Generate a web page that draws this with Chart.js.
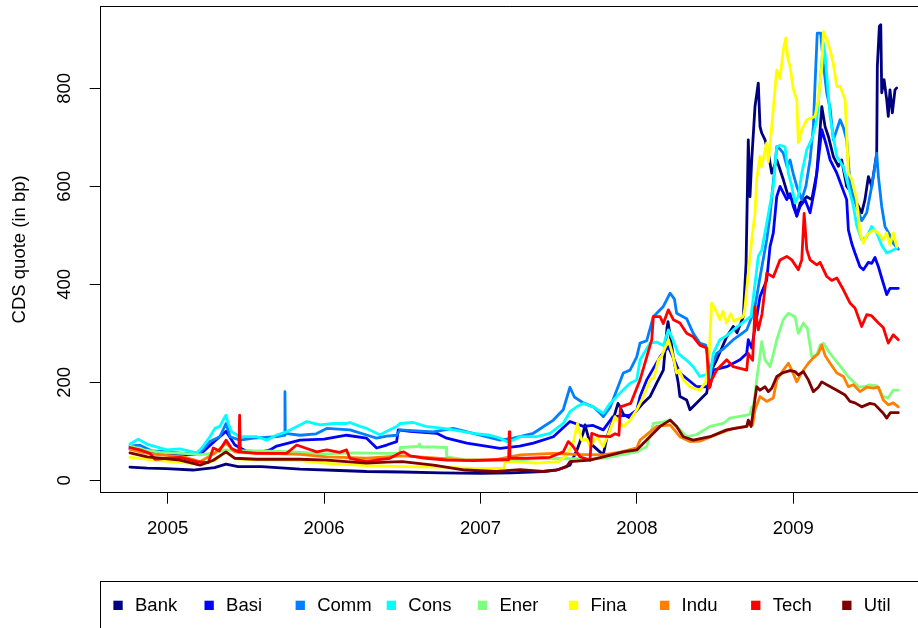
<!DOCTYPE html>
<html>
<head>
<meta charset="utf-8">
<title>CDS quotes by sector</title>
<script src="https://cdn.jsdelivr.net/npm/chart.js@4.4.1/dist/chart.umd.min.js"></script>
<style>
  html, body { margin: 0; padding: 0; background: #ffffff; }
  #wrap { width: 918px; height: 628px; }
</style>
</head>
<body>
<div id="wrap"><canvas id="cds" width="918" height="628"></canvas></div>
<script>
// Sector CDS index quotes (basis points), time in decimal years.
const sectors = ['Bank', 'Basi', 'Comm', 'Cons', 'Ener', 'Fina', 'Indu', 'Tech', 'Util'];
const sectorColors = ['#00007F', '#0000FF', '#007FFF', '#00FFFF', '#7FFF7F', '#FFFF00', '#FF7F00', '#FF0000', '#7F0000'];
const yearTicks = [2005, 2006, 2007, 2008, 2009];
const quoteTicks = [0, 200, 400, 600, 800];

const bankQuotes = [[2004.759,27],[2004.87,25],[2004.99,24],[2005.162,21],[2005.30,26],[2005.373,33],[2005.45,28],[2005.60,28],[2005.846,23],[2006.10,20],[2006.272,18],[2006.50,17],[2006.75,15],[2007.00,14],[2007.20,15],[2007.40,18],[2007.50,22],[2007.572,31],[2007.617,62],[2007.657,97],[2007.668,113],[2007.700,76],[2007.785,52],[2007.809,89],[2007.847,123],[2007.879,157],[2007.892,150],[2007.913,135],[2007.956,127],[2008.041,158],[2008.084,171],[2008.127,199],[2008.169,225],[2008.193,313],[2008.199,324],[2008.233,252],[2008.264,199],[2008.275,171],[2008.318,164],[2008.339,144],[2008.382,158],[2008.446,178],[2008.467,219],[2008.510,246],[2008.574,293],[2008.616,314],[2008.640,301],[2008.680,334],[2008.698,444],[2008.712,695],[2008.723,579],[2008.734,654],[2008.755,763],[2008.776,811],[2008.787,722],[2008.798,709],[2008.819,695],[2008.840,668],[2008.862,627],[2008.894,654],[2008.936,614],[2008.968,579],[2009.000,573],[2009.022,539],[2009.043,566],[2009.086,579],[2009.118,573],[2009.150,627],[2009.182,763],[2009.203,722],[2009.224,702],[2009.256,661],[2009.288,641],[2009.309,654],[2009.341,600],[2009.373,587],[2009.416,559],[2009.437,546],[2009.458,573],[2009.480,620],[2009.501,600],[2009.533,668],[2009.537,845],[2009.550,927],[2009.559,930],[2009.565,791],[2009.580,818],[2009.597,777],[2009.607,743],[2009.618,797],[2009.633,750],[2009.650,797],[2009.661,801]];

const basiQuotes = [[2004.759,64],[2004.85,60],[2004.95,55],[2005.10,52],[2005.207,53],[2005.30,80],[2005.373,100],[2005.43,72],[2005.50,60],[2005.60,58],[2005.654,62],[2005.697,70],[2005.846,82],[2006.00,84],[2006.144,92],[2006.272,86],[2006.336,66],[2006.40,72],[2006.464,79],[2006.474,103],[2006.55,100],[2006.720,96],[2006.784,86],[2006.912,76],[2007.125,65],[2007.25,70],[2007.338,76],[2007.466,89],[2007.572,120],[2007.657,110],[2007.72,112],[2007.785,103],[2007.847,130],[2007.956,133],[2008.00,144],[2008.020,171],[2008.063,205],[2008.148,252],[2008.201,273],[2008.275,219],[2008.382,191],[2008.467,191],[2008.488,225],[2008.574,232],[2008.659,246],[2008.702,259],[2008.712,287],[2008.734,270],[2008.787,375],[2008.830,409],[2008.851,477],[2008.872,505],[2008.894,579],[2008.915,600],[2008.958,573],[2008.979,585],[2009.000,559],[2009.022,540],[2009.043,559],[2009.075,573],[2009.107,546],[2009.139,600],[2009.160,654],[2009.182,716],[2009.214,681],[2009.235,654],[2009.278,627],[2009.341,573],[2009.352,511],[2009.373,484],[2009.394,464],[2009.426,436],[2009.448,430],[2009.480,445],[2009.501,443],[2009.522,455],[2009.544,436],[2009.565,413],[2009.597,379],[2009.618,392],[2009.639,392],[2009.671,392]];

const commQuotes = [[2004.759,70],[2004.82,72],[2004.90,60],[2005.00,58],[2005.10,55],[2005.207,56],[2005.270,79],[2005.334,89],[2005.373,116],[2005.40,89],[2005.462,82],[2005.55,86],[2005.70,89],[2005.748,92],[2005.750,181],[2005.752,96],[2005.846,92],[2005.95,95],[2006.017,106],[2006.165,103],[2006.272,92.5],[2006.336,86],[2006.40,90],[2006.464,92],[2006.485,103],[2006.698,99],[2006.826,106],[2006.954,96],[2007.125,82],[2007.210,86],[2007.338,96],[2007.466,123],[2007.529,144],[2007.572,190],[2007.600,170],[2007.657,158],[2007.721,150],[2007.765,137],[2007.785,130],[2007.830,150],[2007.913,219],[2007.956,225],[2007.999,252],[2008.020,280],[2008.063,285],[2008.105,334],[2008.169,355],[2008.212,382],[2008.240,370],[2008.254,341],[2008.318,330],[2008.360,300],[2008.402,280],[2008.440,276],[2008.467,225],[2008.510,259],[2008.552,268],[2008.616,287],[2008.659,297],[2008.702,307],[2008.730,330],[2008.755,355],[2008.790,420],[2008.830,491],[2008.851,540],[2008.894,681],[2008.915,676],[2008.936,668],[2008.960,640],[2008.979,654],[2009.000,625],[2009.022,600],[2009.054,573],[2009.080,600],[2009.107,654],[2009.128,722],[2009.139,811],[2009.153,913],[2009.175,913],[2009.192,850],[2009.214,790],[2009.235,760],[2009.256,695],[2009.299,736],[2009.320,720],[2009.341,695],[2009.362,607],[2009.384,580],[2009.405,559],[2009.437,530],[2009.469,546],[2009.501,600],[2009.522,641],[2009.533,668],[2009.544,620],[2009.565,559],[2009.586,518],[2009.618,500],[2009.639,484],[2009.671,472]];

const consQuotes = [[2004.759,74],[2004.812,84],[2004.866,74],[2004.994,62],[2005.079,64],[2005.185,56],[2005.207,62],[2005.226,69],[2005.270,89],[2005.302,106],[2005.334,110],[2005.355,123],[2005.373,133],[2005.387,116],[2005.409,99],[2005.462,89],[2005.569,89],[2005.633,82],[2005.697,92.5],[2005.760,99],[2005.846,113],[2005.889,120],[2005.974,113],[2006.059,116],[2006.144,116],[2006.165,118],[2006.230,110],[2006.272,106],[2006.336,96],[2006.358,93],[2006.421,103],[2006.464,110],[2006.485,116],[2006.570,118],[2006.650,110],[2006.762,106],[2006.826,103],[2006.954,96],[2007.061,92],[2007.125,86],[2007.167,79],[2007.210,82],[2007.253,89],[2007.359,89],[2007.444,96],[2007.529,116],[2007.572,140],[2007.615,150],[2007.657,157],[2007.721,150],[2007.785,137],[2007.828,157],[2007.892,178],[2007.956,198],[2007.999,205],[2008.020,246],[2008.084,280],[2008.127,282],[2008.169,275],[2008.201,307],[2008.233,285],[2008.264,259],[2008.318,245],[2008.360,232],[2008.402,212],[2008.446,216],[2008.467,210],[2008.488,259],[2008.531,287],[2008.574,295],[2008.616,307],[2008.659,318],[2008.702,328],[2008.730,335],[2008.776,457],[2008.798,470],[2008.830,525],[2008.872,600],[2008.894,681],[2008.915,684],[2008.947,681],[2008.968,627],[2008.990,600],[2009.011,566],[2009.032,580],[2009.054,627],[2009.086,675],[2009.118,696],[2009.150,736],[2009.171,811],[2009.192,893],[2009.203,870],[2009.235,743],[2009.256,700],[2009.278,661],[2009.320,640],[2009.352,600],[2009.384,559],[2009.405,520],[2009.437,491],[2009.469,497],[2009.501,518],[2009.533,505],[2009.565,480],[2009.597,464],[2009.639,470],[2009.661,474]];

const enerQuotes = [[2004.759,70],[2004.85,62],[2004.95,57],[2005.10,55],[2005.207,52],[2005.30,56],[2005.373,62],[2005.45,60],[2005.60,60],[2005.80,58],[2006.00,54],[2006.20,56],[2006.40,55],[2006.484,55],[2006.486,67],[2006.60,69],[2006.610,74],[2006.615,68],[2006.70,68],[2006.78,67],[2006.784,48],[2006.90,42],[2007.10,40],[2007.25,42],[2007.40,45],[2007.60,44],[2007.785,45],[2007.90,52],[2007.999,58],[2008.063,69],[2008.105,116],[2008.150,118],[2008.212,123],[2008.275,103],[2008.318,89],[2008.380,93],[2008.467,110],[2008.552,116],[2008.595,127],[2008.702,133],[2008.723,135],[2008.734,150],[2008.740,138],[2008.766,205],[2008.798,283],[2008.819,246],[2008.851,232],[2008.870,255],[2008.894,287],[2008.936,328],[2008.968,341],[2009.011,334],[2009.032,300],[2009.064,321],[2009.090,310],[2009.118,252],[2009.150,256],[2009.171,276],[2009.192,280],[2009.235,259],[2009.270,245],[2009.320,225],[2009.350,212],[2009.394,198],[2009.420,190],[2009.460,192],[2009.490,195],[2009.533,193],[2009.575,171],[2009.605,168],[2009.639,184],[2009.671,184]];

const finaQuotes = [[2004.759,47],[2004.85,44],[2004.95,40],[2005.10,36],[2005.207,33],[2005.30,40],[2005.373,58],[2005.43,44],[2005.55,42],[2005.70,41],[2005.846,40],[2006.00,35],[2006.272,30],[2006.50,28],[2006.75,27],[2007.00,24],[2007.150,25],[2007.157,38],[2007.30,36],[2007.359,35],[2007.500,38],[2007.551,52],[2007.593,76],[2007.615,110],[2007.620,116],[2007.647,82],[2007.680,84],[2007.700,69],[2007.743,89],[2007.785,69],[2007.828,103],[2007.860,130],[2007.880,122],[2007.913,110],[2007.950,120],[2007.999,144],[2008.041,171],[2008.084,205],[2008.110,210],[2008.137,246],[2008.160,255],[2008.201,287],[2008.230,255],[2008.254,219],[2008.270,225],[2008.296,205],[2008.339,191],[2008.402,184],[2008.440,200],[2008.462,259],[2008.478,362],[2008.500,350],[2008.531,328],[2008.550,345],[2008.574,321],[2008.600,340],[2008.620,325],[2008.680,334],[2008.690,350],[2008.712,423],[2008.734,491],[2008.755,546],[2008.766,614],[2008.787,661],[2008.797,640],[2008.830,689],[2008.840,650],[2008.862,722],[2008.894,838],[2008.915,820],[2008.936,879],[2008.952,903],[2008.965,860],[2008.979,845],[2009.000,798],[2009.022,777],[2009.032,689],[2009.040,695],[2009.054,716],[2009.086,736],[2009.118,740],[2009.139,743],[2009.160,777],[2009.182,845],[2009.192,916],[2009.214,900],[2009.235,879],[2009.256,850],[2009.278,804],[2009.300,804],[2009.331,777],[2009.352,627],[2009.373,615],[2009.405,573],[2009.426,505],[2009.448,484],[2009.469,500],[2009.512,511],[2009.544,505],[2009.575,491],[2009.597,505],[2009.618,480],[2009.639,505],[2009.661,477]];

const induQuotes = [[2004.759,63],[2004.85,56],[2004.95,52],[2005.10,48],[2005.207,38],[2005.30,55],[2005.373,76],[2005.43,58],[2005.50,56],[2005.654,55],[2005.846,53],[2006.017,48],[2006.272,45],[2006.50,50],[2006.70,46],[2006.90,41],[2007.10,42],[2007.253,52],[2007.466,55],[2007.60,53],[2007.785,52],[2007.90,58],[2007.999,66],[2008.020,82],[2008.127,110],[2008.212,113],[2008.275,89],[2008.339,79],[2008.402,80],[2008.531,96],[2008.616,106],[2008.702,110],[2008.723,116],[2008.740,113],[2008.755,144],[2008.787,171],[2008.830,161],[2008.872,168],[2008.894,205],[2008.936,225],[2008.968,239],[2008.990,225],[2009.022,201],[2009.054,220],[2009.096,239],[2009.128,250],[2009.160,259],[2009.182,276],[2009.203,255],[2009.235,239],[2009.278,219],[2009.320,212],[2009.352,191],[2009.384,195],[2009.426,181],[2009.469,190],[2009.512,188],[2009.544,190],[2009.575,164],[2009.607,154],[2009.639,158],[2009.671,150]];

const techQuotes = [[2004.759,67],[2004.823,62],[2004.887,55],[2004.919,43],[2005.079,47],[2005.185,38],[2005.260,36],[2005.292,66],[2005.330,60],[2005.373,82],[2005.409,65],[2005.455,58],[2005.460,133],[2005.465,58],[2005.569,55],[2005.760,55],[2005.825,72],[2005.889,65],[2005.953,58],[2006.017,62],[2006.100,57],[2006.144,62],[2006.165,45],[2006.272,38],[2006.350,42],[2006.421,45],[2006.485,56],[2006.510,58],[2006.550,50],[2006.650,45],[2006.784,41],[2006.954,40],[2007.100,42],[2007.180,42],[2007.184,99],[2007.188,45],[2007.300,45],[2007.444,47],[2007.529,58],[2007.561,79],[2007.590,70],[2007.636,48],[2007.700,41],[2007.711,96],[2007.760,90],[2007.828,89],[2007.860,95],[2007.885,92],[2007.895,150],[2007.960,157],[2008.020,205],[2008.063,252],[2008.095,287],[2008.105,334],[2008.148,334],[2008.169,320],[2008.201,348],[2008.233,328],[2008.275,321],[2008.318,300],[2008.360,293],[2008.402,276],[2008.446,270],[2008.462,188],[2008.478,205],[2008.510,225],[2008.574,246],[2008.616,232],[2008.702,225],[2008.712,259],[2008.740,245],[2008.755,355],[2008.776,307],[2008.800,340],[2008.830,423],[2008.872,415],[2008.915,450],[2008.958,457],[2008.990,450],[2009.032,430],[2009.054,450],[2009.069,545],[2009.086,471],[2009.107,450],[2009.150,440],[2009.171,445],[2009.214,416],[2009.245,408],[2009.278,413],[2009.320,389],[2009.362,362],[2009.394,352],[2009.437,314],[2009.469,338],[2009.500,336],[2009.544,321],[2009.575,312],[2009.607,280],[2009.639,297],[2009.671,287]];

const utilQuotes = [[2004.759,56],[2004.87,48],[2005.079,41],[2005.207,31],[2005.292,41],[2005.373,58],[2005.43,45],[2005.569,43],[2005.846,43],[2006.017,41],[2006.272,35],[2006.40,37],[2006.50,38],[2006.70,31],[2006.90,21],[2007.10,18],[2007.253,22],[2007.40,18],[2007.487,21],[2007.551,28],[2007.572,38],[2007.700,41],[2007.785,48],[2007.913,58],[2007.999,62],[2008.105,96],[2008.148,110],[2008.212,123],[2008.254,110],[2008.296,89],[2008.360,82],[2008.467,89],[2008.574,103],[2008.702,110],[2008.712,123],[2008.730,110],[2008.766,191],[2008.787,184],[2008.819,191],[2008.840,181],[2008.862,188],[2008.894,212],[2008.936,220],[2008.979,224],[2009.011,222],[2009.032,215],[2009.064,222],[2009.096,205],[2009.128,181],[2009.160,190],[2009.182,201],[2009.214,195],[2009.278,184],[2009.331,174],[2009.362,161],[2009.394,158],[2009.437,150],[2009.490,157],[2009.520,155],[2009.575,137],[2009.597,127],[2009.620,138],[2009.671,138]];

const sectorQuotes = [bankQuotes, basiQuotes, commQuotes, consQuotes, enerQuotes, finaQuotes, induQuotes, techQuotes, utilQuotes];

const FONT = '"Liberation Sans", Arial, Helvetica, sans-serif';
Chart.defaults.font.family = FONT;
Chart.defaults.font.size = 18;
Chart.defaults.color = '#000000';

// Plot box top edge and the horizontal sector key below the axis.
const frameAndKey = {
  id: 'frameAndKey',
  afterDraw(chart) {
    const ctx = chart.ctx;
    const area = chart.chartArea;
    ctx.save();
    ctx.strokeStyle = '#000000';
    ctx.lineWidth = 1;
    const yTop = Math.round(area.top) + 0.5;
    ctx.beginPath();
    ctx.moveTo(area.left, yTop);
    ctx.lineTo(area.right + 2, yTop);
    ctx.stroke();

    ctx.strokeRect(100.5, 581.5, 840, 80);
    ctx.font = '18.5px ' + FONT;
    ctx.textAlign = 'left';
    ctx.textBaseline = 'middle';
    chart.data.datasets.forEach((ds, i) => {
      const cx = 118 + i * 91.1;
      ctx.fillStyle = ds.borderColor;
      ctx.fillRect(cx - 4.6, 600.7, 9.3, 9.3);
      ctx.fillStyle = '#000000';
      ctx.fillText(ds.label, cx + 17, 605.8);
    });
    ctx.restore();
  }
};

const axisGrid = { display: true, drawOnChartArea: false, drawTicks: true, tickLength: 11, color: '#000000', tickColor: '#000000', tickWidth: 1 };
const axisBorder = { display: true, color: '#000000', width: 1 };

new Chart(document.getElementById('cds'), {
  type: 'line',
  data: {
    datasets: sectors.map((name, i) => ({
      label: name,
      data: sectorQuotes[i].map(p => ({ x: p[0], y: p[1] })),
      borderColor: sectorColors[i],
      backgroundColor: sectorColors[i],
      borderWidth: 2.8,
      pointRadius: 0,
      tension: 0,
      fill: false,
      borderCapStyle: 'round',
      borderJoinStyle: 'round',
      order: sectors.length - i
    }))
  },
  options: {
    responsive: false,
    devicePixelRatio: 1,
    animation: false,
    events: [],
    layout: { padding: { top: 6, left: 0, right: 0, bottom: 0 } },
    plugins: { legend: { display: false }, tooltip: { enabled: false } },
    scales: {
      x: {
        type: 'linear',
        position: 'bottom',
        min: 2004.572,
        max: 2009.797,
        afterBuildTicks: s => { s.ticks = yearTicks.map(v => ({ value: v })); },
        afterFit: s => { s.height = 135.3; s.paddingLeft = 0; s.paddingRight = 0; },
        grid: axisGrid,
        border: axisBorder,
        ticks: { padding: 14.5, minRotation: 0, maxRotation: 0, autoSkip: false, color: '#000000', font: { size: 18.5 }, callback: v => String(v) }
      },
      y: {
        type: 'linear',
        position: 'left',
        min: -25.3,
        max: 968.3,
        afterBuildTicks: s => { s.ticks = quoteTicks.map(v => ({ value: v })); },
        afterFit: s => { s.width = 100.7; s.paddingTop = 0; s.paddingBottom = 0; },
        grid: axisGrid,
        border: axisBorder,
        ticks: { minRotation: 90, maxRotation: 90, crossAlign: 'center', padding: 9, autoSkip: false, color: '#000000', font: { size: 18.5 }, callback: v => String(v) },
        title: { display: true, text: 'CDS quote (in bp)', color: '#000000', font: { size: 18.5 }, padding: { top: 9, bottom: 0 } }
      }
    }
  },
  plugins: [frameAndKey]
});
</script>
</body>
</html>
